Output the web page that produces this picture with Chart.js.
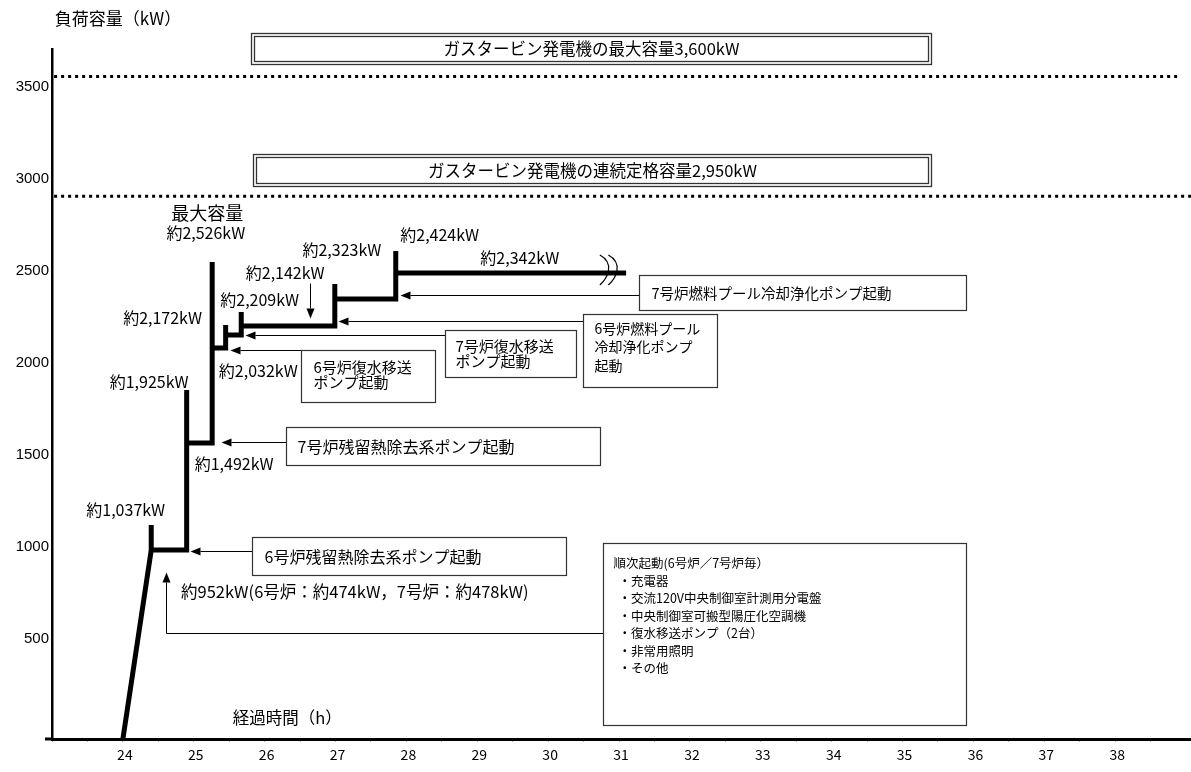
<!DOCTYPE html>
<html>
<head>
<meta charset="utf-8">
<script src="https://cdn.jsdelivr.net/npm/chart.js@4"></script>
<style>
html,body{margin:0;padding:0;background:#fff;}
#wrap{width:1191px;height:772px;position:relative;}
</style>
</head>
<body>
<div id="wrap"><canvas id="c"></canvas></div>
<script>
// ---- data ----
const loadTimes  = [24.0, 24.40, 24.40, 24.40, 24.90, 24.90, 24.90, 25.26, 25.26, 25.26, 25.45, 25.45, 25.45, 25.67, 25.67, 25.67, 26.99, 26.99, 26.99, 27.85, 27.85, 27.85, 31.10];
const loadValues = [0, 1027, 1163, 1027, 1027, 1897, 1609, 1609, 2592, 2125, 2125, 2250, 2196, 2196, 2321, 2245, 2245, 2473, 2391, 2391, 2652, 2533, 2533];
const maxCapacity = 3600;
const ratedCapacity = 2950;
const capacityLineTimes = [23.03, 38.89];
const ratedLineTimes = [23.03, 39.07];
const xTickLabels = [24, 25, 26, 27, 28, 29, 30, 31, 32, 33, 34, 35, 36, 37, 38];
const yTickLabels = [500, 1000, 1500, 2000, 2500, 3000, 3500];

// ---- annotations (data coordinates) ----
const FONT = '"Noto Sans CJK JP", "Noto Sans", sans-serif';
const labelNotes = [
  {t:'最大容量', x:25.19, y:2859, size:18},
  {t:'約2,526kW', x:25.17, y:2750},
  {t:'約2,424kW', x:28.47, y:2739},
  {t:'約2,323kW', x:27.09, y:2658},
  {t:'約2,342kW', x:29.60, y:2614},
  {t:'約2,142kW', x:26.29, y:2533},
  {t:'約2,209kW', x:25.93, y:2386},
  {t:'約2,172kW', x:24.56, y:2288},
  {t:'約2,032kW', x:25.91, y:2000},
  {t:'約1,925kW', x:24.37, y:1940},
  {t:'約1,492kW', x:25.57, y:1495},
  {t:'約1,037kW', x:24.04, y:1245},
  {t:'約952kW(6号炉：約474kW，7号炉：約478kW)', x:24.82, y:799, align:'left', size:16.5},
  {t:'経過時間（h）', x:25.55, y:114, align:'left', size:16.5},
  {t:'負荷容量（kW）', x:23.04, y:3918, align:'left', size:17}
];
const boxNotes = [
  {x0:31.28, x1:35.90, y0:2522, y1:2332, lines:['7号炉燃料プール冷却浄化ポンプ起動'], pad:12, size:14.5},
  {x0:30.49, x1:32.38, y0:2310, y1:1913, lines:['6号炉燃料プール','冷却浄化ポンプ','起動'], pad:11, first:14, gap:18.5, size:14},
  {x0:28.54, x1:30.39, y0:2223, y1:1967, lines:['7号炉復水移送','ポンプ起動'], pad:10, first:16, gap:14.5, size:15},
  {x0:26.51, x1:28.40, y0:2114, y1:1832, lines:['6号炉復水移送','ポンプ起動'], pad:12, first:17, gap:15, size:15},
  {x0:26.30, x1:30.73, y0:1696, y1:1489, lines:['7号炉残留熱除去系ポンプ起動'], pad:11, size:16},
  {x0:25.82, x1:30.25, y0:1098, y1:891, lines:['6号炉残留熱除去系ポンプ起動'], pad:12, size:16},
  {x0:30.77, x1:35.90, y0:1065, y1:76, lines:['順次起動(6号炉／7号炉毎）','・充電器','・交流120V中央制御室計測用分電盤','・中央制御室可搬型陽圧化空調機','・復水移送ポンプ（2台）','・非常用照明','・その他'], pad:10, indent:[0,5,5,5,5,5,5], first:20, gap:17.5, size:12.5}
];
const doubleBoxes = [
  {x0:25.81, x1:35.40, y0:3837, y1:3668, text:'ガスタービン発電機の最大容量3,600kW'},
  {x0:25.83, x1:35.40, y0:3179, y1:3005, text:'ガスタービン発電機の連続定格容量2,950kW'}
];
const arrowNotes = [
  [[31.28,2413],[27.91,2413]],
  [[30.49,2272],[27.04,2272]],
  [[28.54,2196],[25.72,2196]],
  [[26.51,2114],[25.51,2114]],
  [[26.30,1614],[25.38,1614]],
  [[25.82,1022],[24.95,1022]],
  [[30.77,576],[24.61,576],[24.61,908]],
  [[26.64,2478],[26.64,2288]]
];
const breakMarks = [[30.80, 2533], [30.92, 2533]];

// ---- plugin ----
const notesPlugin = {
  id:'notes',
  afterDatasetsDraw(chart){
    const ctx = chart.ctx, xs = chart.scales.x, ys = chart.scales.y;
    const px = v => xs.getPixelForValue(v), py = v => ys.getPixelForValue(v);
    ctx.save();
    // x axis stub to the left of the y axis
    ctx.fillStyle = '#000';
    ctx.fillRect(chart.chartArea.left - 7, chart.chartArea.bottom - 1.5, 8, 3);
    // break marks
    ctx.strokeStyle = '#000'; ctx.lineWidth = 1.2;
    breakMarks.forEach(([bx,by])=>{
      const x = px(bx), y = py(by) - 3;
      ctx.beginPath();
      ctx.moveTo(x-5, y-15);
      ctx.bezierCurveTo(x+10, y-7, x+3, y+8, x-5, y+15);
      ctx.stroke();
    });
    // arrows
    ctx.lineWidth = 1; ctx.fillStyle = '#000';
    arrowNotes.forEach(pts=>{
      const p = pts.map(([a,b])=>[Math.round(px(a))+0.5, Math.round(py(b))+0.5]);
      const n = p.length;
      const [tx,ty] = p[n-1], [fx,fy] = p[n-2];
      const ang = Math.atan2(ty-fy, tx-fx);
      const L = 10, W = 4;
      ctx.beginPath();
      ctx.moveTo(p[0][0], p[0][1]);
      for (let i=1;i<n-1;i++) ctx.lineTo(p[i][0], p[i][1]);
      ctx.lineTo(tx - Math.cos(ang)*L, ty - Math.sin(ang)*L);
      ctx.stroke();
      ctx.beginPath();
      ctx.moveTo(tx, ty);
      ctx.lineTo(tx - Math.cos(ang)*L - Math.sin(ang)*W, ty - Math.sin(ang)*L + Math.cos(ang)*W);
      ctx.lineTo(tx - Math.cos(ang)*L + Math.sin(ang)*W, ty - Math.sin(ang)*L - Math.cos(ang)*W);
      ctx.closePath();
      ctx.fill();
    });
    // boxes
    ctx.textBaseline = 'middle'; ctx.textAlign = 'left';
    boxNotes.forEach(b=>{
      const x0 = Math.round(px(b.x0))+0.5, x1 = Math.round(px(b.x1))+0.5;
      const y0 = Math.round(py(b.y0))+0.5, y1 = Math.round(py(b.y1))+0.5;
      ctx.fillStyle = '#fff';
      ctx.fillRect(x0, y0, x1-x0, y1-y0);
      ctx.strokeStyle = '#333'; ctx.lineWidth = 1.2;
      ctx.strokeRect(x0, y0, x1-x0, y1-y0);
      ctx.fillStyle = '#000';
      ctx.font = (b.size || 14.5) + 'px ' + FONT;
      b.lines.forEach((ln,i)=>{
        const yy = b.lines.length === 1 ? (y0+y1)/2 : y0 + b.first + i*b.gap;
        const ind = b.indent ? b.indent[i] : 0;
        ctx.fillText(ln, x0 + b.pad + ind, yy);
      });
    });
    // double boxes
    doubleBoxes.forEach(b=>{
      const x0 = Math.round(px(b.x0))+0.5, x1 = Math.round(px(b.x1))+0.5;
      const y0 = Math.round(py(b.y0))+0.5, y1 = Math.round(py(b.y1))+0.5;
      ctx.strokeStyle = '#333'; ctx.lineWidth = 1.3;
      ctx.strokeRect(x0, y0, x1-x0, y1-y0);
      ctx.strokeRect(x0+3, y0+3, x1-x0-6, y1-y0-6);
      ctx.fillStyle = '#000';
      ctx.font = '16.5px ' + FONT;
      ctx.textAlign = 'center';
      ctx.fillText(b.text, (x0+x1)/2, (y0+y1)/2);
      ctx.textAlign = 'left';
    });
    // labels
    labelNotes.forEach(l=>{
      ctx.font = (l.size || 16) + 'px ' + FONT;
      ctx.textAlign = l.align || 'center';
      ctx.fillStyle = '#000';
      ctx.fillText(l.t, px(l.x), py(l.y));
    });
    ctx.restore();
  }
};

const ctx = document.getElementById('c').getContext('2d');
new Chart(ctx, {
  type:'line',
  data:{
    datasets:[
      {data: loadTimes.map((t,i)=>({x:t, y:loadValues[i]})), borderColor:'#000', borderWidth:5,
       pointRadius:0, tension:0, borderJoinStyle:'miter', borderCapStyle:'butt', fill:false},
      {data: capacityLineTimes.map(t=>({x:t, y:maxCapacity})), borderColor:'#000', borderWidth:3,
       borderDash:[3,4], pointRadius:0, borderCapStyle:'butt', fill:false},
      {data: ratedLineTimes.map(t=>({x:t, y:ratedCapacity})), borderColor:'#000', borderWidth:3,
       borderDash:[3,4], pointRadius:0, borderCapStyle:'butt', fill:false}
    ]
  },
  options:{
    responsive:true, maintainAspectRatio:false, animation:false,
    layout:{padding:{top:49, right:0, left:0, bottom:0}},
    plugins:{legend:{display:false}, tooltip:{enabled:false}},
    scales:{
      x:{type:'linear', min:23, max:39.07,
        afterFit(s){ s.height = 33; },
        afterBuildTicks(s){ s.ticks = s.ticks.filter(t => Math.abs(t.value*2 - Math.round(t.value*2)) < 1e-6); },
        ticks:{stepSize:0.5, autoSkip:false, maxRotation:0, padding:4, labelOffset:2, color:'#000',
          font:{family:FONT, size:14},
          callback:v => xTickLabels.includes(v) ? String(v) : ''},
        grid:{display:true, drawOnChartArea:false, drawTicks:true, tickLength:3, color:'#aaa'},
        border:{display:true, color:'#000', width:3}
      },
      y:{type:'linear', min:0, max:3750,
        afterFit(s){ s.width = 52; },
        ticks:{stepSize:250, autoSkip:false, padding:3, labelOffset:-8, color:'#000',
          font:{family:'"Liberation Sans", Arial, sans-serif', size:15},
          callback:v => yTickLabels.includes(v) ? String(v) : ''},
        grid:{display:false, drawTicks:false},
        border:{display:true, color:'#000', width:2.5}
      }
    }
  },
  plugins:[notesPlugin]
});
</script>
</body>
</html>
